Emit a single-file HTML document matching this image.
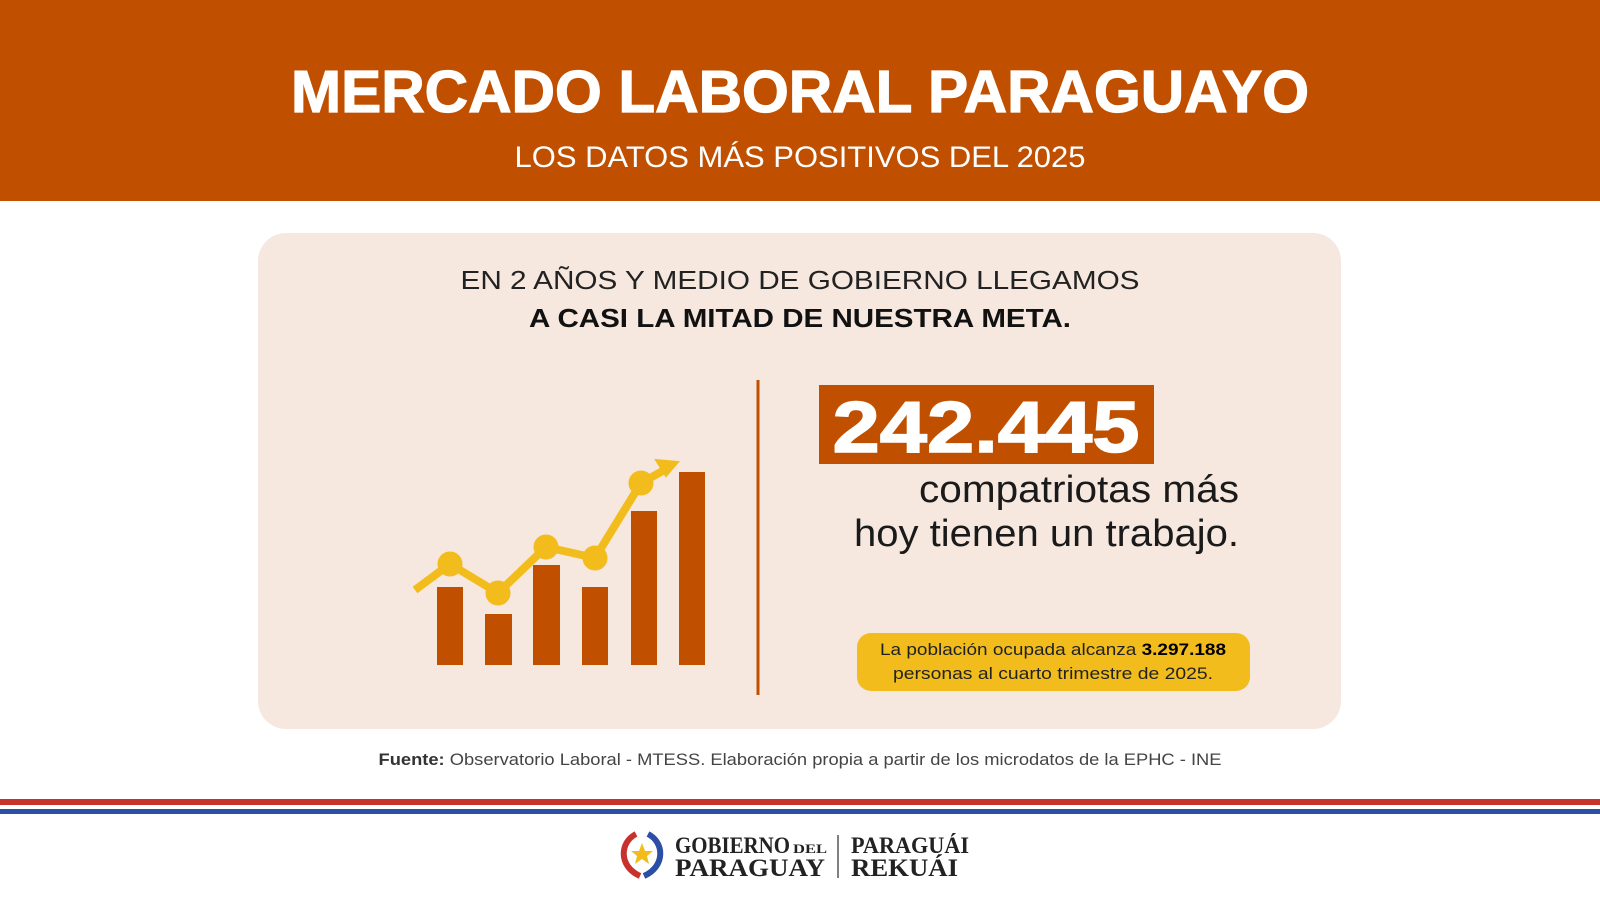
<!DOCTYPE html>
<html><head><meta charset="utf-8"><style>html,body{margin:0;padding:0;background:#fff}svg{display:block}</style></head>
<body>
<svg width="1600" height="900" viewBox="0 0 1600 900" xmlns="http://www.w3.org/2000/svg" font-family="'Liberation Sans', sans-serif">
<rect x="0" y="0" width="1600" height="201" fill="#c05000"/>
<text x="800" y="112" font-size="59" font-weight="bold" fill="#fff" stroke="#fff" stroke-width="1.2" text-anchor="middle" textLength="1018" lengthAdjust="spacingAndGlyphs">MERCADO LABORAL PARAGUAYO</text>
<text x="800" y="167" font-size="30" fill="#fff" text-anchor="middle" textLength="571" lengthAdjust="spacingAndGlyphs">LOS DATOS MÁS POSITIVOS DEL 2025</text>
<rect x="258" y="233" width="1083" height="496" rx="28" fill="#f6e7df"/>
<text x="800" y="289" font-size="25.5" fill="#222" text-anchor="middle" textLength="679" lengthAdjust="spacingAndGlyphs">EN 2 AÑOS Y MEDIO DE GOBIERNO LLEGAMOS</text>
<text x="800" y="327" font-size="25.5" font-weight="bold" fill="#111" text-anchor="middle" textLength="542" lengthAdjust="spacingAndGlyphs">A CASI LA MITAD DE NUESTRA META.</text>
<line x1="758" y1="380" x2="758" y2="695" stroke="#c05000" stroke-width="3"/>
<g fill="#c05000">
<rect x="437" y="587" width="26" height="78"/>
<rect x="485" y="614" width="27" height="51"/>
<rect x="533" y="565" width="27" height="100"/>
<rect x="582" y="587" width="26" height="78"/>
<rect x="631" y="511" width="26" height="154"/>
<rect x="679" y="472" width="26" height="193"/>
</g>
<g fill="#f2bd1c" stroke="#f2bd1c">
<polyline points="415,590 450,564 498,593 546,547 595,558 641,483 668,468" fill="none" stroke-width="8" stroke-linejoin="round"/>
<polygon points="678,462 656,460 666,476" stroke-width="2"/>
<circle cx="450" cy="564" r="12"/>
<circle cx="498" cy="593" r="12"/>
<circle cx="546" cy="547" r="12"/>
<circle cx="595" cy="558" r="12"/>
<circle cx="641" cy="483" r="12"/>
</g>
<rect x="819" y="385" width="335" height="79" fill="#c05000"/>
<text x="986" y="452" font-size="72" font-weight="bold" fill="#fff" stroke="#fff" stroke-width="1.5" text-anchor="middle" textLength="307" lengthAdjust="spacingAndGlyphs">242.445</text>
<text x="1239" y="502" font-size="38" fill="#1a1a1a" text-anchor="end" textLength="320" lengthAdjust="spacingAndGlyphs">compatriotas más</text>
<text x="1239" y="546" font-size="38" fill="#1a1a1a" text-anchor="end" textLength="385" lengthAdjust="spacingAndGlyphs">hoy tienen un trabajo.</text>
<rect x="857" y="633" width="393" height="58" rx="14" fill="#f2bd1c"/>
<text x="1053" y="655" font-size="16.5" fill="#222" text-anchor="middle" textLength="346" lengthAdjust="spacingAndGlyphs">La población ocupada alcanza <tspan font-weight="bold" fill="#000">3.297.188</tspan></text>
<text x="1053" y="679" font-size="16.5" fill="#222" text-anchor="middle" textLength="320" lengthAdjust="spacingAndGlyphs">personas al cuarto trimestre de 2025.</text>
<text x="800" y="765" font-size="16.5" fill="#444" text-anchor="middle" textLength="843" lengthAdjust="spacingAndGlyphs"><tspan font-weight="bold" fill="#333">Fuente:</tspan> Observatorio Laboral - MTESS. Elaboración propia a partir de los microdatos de la EPHC - INE</text>
<rect x="0" y="799" width="1600" height="6" fill="#c8322c"/>
<rect x="0" y="809" width="1600" height="5" fill="#2a4fa5"/>
<g>
<path d="M636,834 C620,842 618,866 640,876" fill="none" stroke="#c8322c" stroke-width="6"/>
<path d="M648,834 C664,842 666,866 644,876" fill="none" stroke="#2a4fa5" stroke-width="6"/>
<polygon points="642,843 645,851 653,851 647,856 649,864 642,859 635,864 637,856 631,851 639,851" fill="#f2bd1c"/>
</g>
<g font-family="'Liberation Serif', serif" font-weight="bold" fill="#222">
<text x="675" y="853" font-size="23" textLength="115" lengthAdjust="spacingAndGlyphs">GOBIERNO</text>
<text x="793" y="853" font-size="13" textLength="34" lengthAdjust="spacingAndGlyphs">DEL</text>
<text x="675" y="876" font-size="25" textLength="150" lengthAdjust="spacingAndGlyphs">PARAGUAY</text>
<line x1="838" y1="835" x2="838" y2="878" stroke="#555" stroke-width="1.5"/>
<text x="851" y="853" font-size="23" textLength="118" lengthAdjust="spacingAndGlyphs">PARAGUÁI</text>
<text x="851" y="876" font-size="25" textLength="107" lengthAdjust="spacingAndGlyphs">REKUÁI</text>
</g>
</svg>
</body></html>
